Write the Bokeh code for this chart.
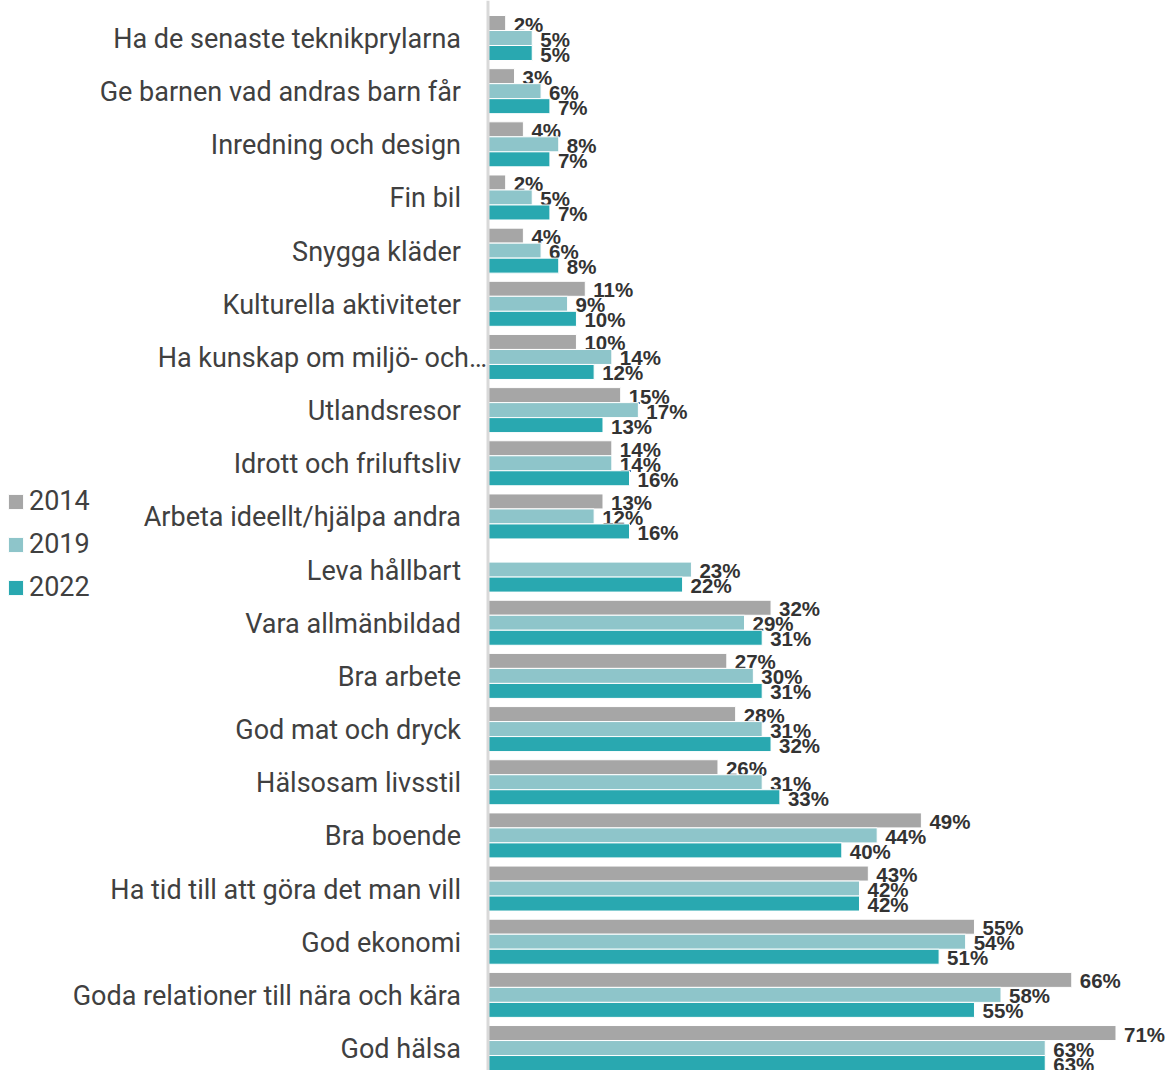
import math
from bokeh.plotting import figure
from bokeh.models import ColumnDataSource, Range1d, Span, Legend, LegendItem
from bokeh.core.properties import value
from bokeh.embed import file_html
from bokeh.resources import INLINE

categories = [
    "Ha de senaste teknikprylarna",
    "Ge barnen vad andras barn får",
    "Inredning och design",
    "Fin bil",
    "Snygga kläder",
    "Kulturella aktiviteter",
    "Ha kunskap om miljö- och…",
    "Utlandsresor",
    "Idrott och friluftsliv",
    "Arbeta ideellt/hjälpa andra",
    "Leva hållbart",
    "Vara allmänbildad",
    "Bra arbete",
    "God mat och dryck",
    "Hälsosam livsstil",
    "Bra boende",
    "Ha tid till att göra det man vill",
    "God ekonomi",
    "Goda relationer till nära och kära",
    "God hälsa",
]
series_names = ["2014", "2019", "2022"]
v2014 = [2, 3, 4, 2, 4, 11, 10, 15, 14, 13, None, 32, 27, 28, 26, 49, 43, 55, 66, 71]
v2019 = [5, 6, 8, 5, 6, 9, 14, 17, 14, 12, 23, 29, 30, 31, 31, 44, 42, 54, 58, 63]
v2022 = [5, 7, 7, 7, 8, 10, 12, 13, 16, 16, 22, 31, 31, 32, 33, 40, 42, 51, 55, 63]
colors = ["#A6A6A6", "#8EC5CA", "#29A8B0"]

# layout geometry (pixels)
W, H = 1169, 1070
axis_px = 487.5        # frame x of zero line
px_per_pct = 8.845
px_per_cat = 53.16
top_pad_px = 37.5
bar_px = 15.0

x_start = -axis_px / px_per_pct
x_end = (W - axis_px) / px_per_pct
y_top = -top_pad_px / px_per_cat
y_bottom = y_top + H / px_per_cat

p = figure(width=W, height=H, output_backend="svg", toolbar_location=None,
           x_range=Range1d(x_start, x_end), y_range=Range1d(y_bottom, y_top),
           min_border=0, outline_line_color=None, background_fill_color="white")
p.xaxis.visible = False
p.yaxis.visible = False
p.grid.visible = False

bh = bar_px / px_per_cat
offsets = [-bh, 0.0, bh]
renderers = []
for name, vals, col, off in zip(series_names, [v2014, v2019, v2022], colors, offsets):
    ys = [i + off for i, v in enumerate(vals) if v is not None]
    xs = [v for v in vals if v is not None]
    src = ColumnDataSource(dict(y=ys, right=xs, label=[f"{v}%" for v in xs]))
    r = p.hbar(y="y", left=0, right="right", height=bh, source=src,
               fill_color=col, line_color="white", line_width=1)
    renderers.append(r)
    p.text(x="right", y="y", text="label", source=src, x_offset=8, y_offset=1,
           text_align="left", text_baseline="middle",
           text_font=value("Liberation Sans"), text_font_style="bold",
           text_font_size="20.5px", text_color="#333333")

# category labels (a truncated label overflows toward the axis, as in the original)
cat_offsets = [-1 if c.endswith("…") else -27 for c in categories]
cat_src = ColumnDataSource(dict(x=[0] * len(categories), y=list(range(len(categories))),
                                t=categories, xo=cat_offsets))
p.text(x="x", y="y", text="t", source=cat_src, x_offset="xo", y_offset=1,
       text_align="right", text_baseline="middle",
       text_font=value("Roboto"), text_font_size="27px", text_color="#404040")

p.add_layout(Span(location=0, dimension="height", line_color="#D9D9D9", line_width=3))

legend = Legend(items=[LegendItem(label=n, renderers=[r]) for n, r in zip(series_names, renderers)],
                location=(6, 467), orientation="vertical",
                glyph_width=19, glyph_height=19, label_standoff=4,
                label_height=30, spacing=11, padding=4, margin=0,
                label_text_font="Roboto", label_text_font_size="27px",
                label_text_color="#404040", border_line_color=None,
                background_fill_alpha=0)
p.add_layout(legend, "center")

open("out.html", "w").write(file_html(p, INLINE))
